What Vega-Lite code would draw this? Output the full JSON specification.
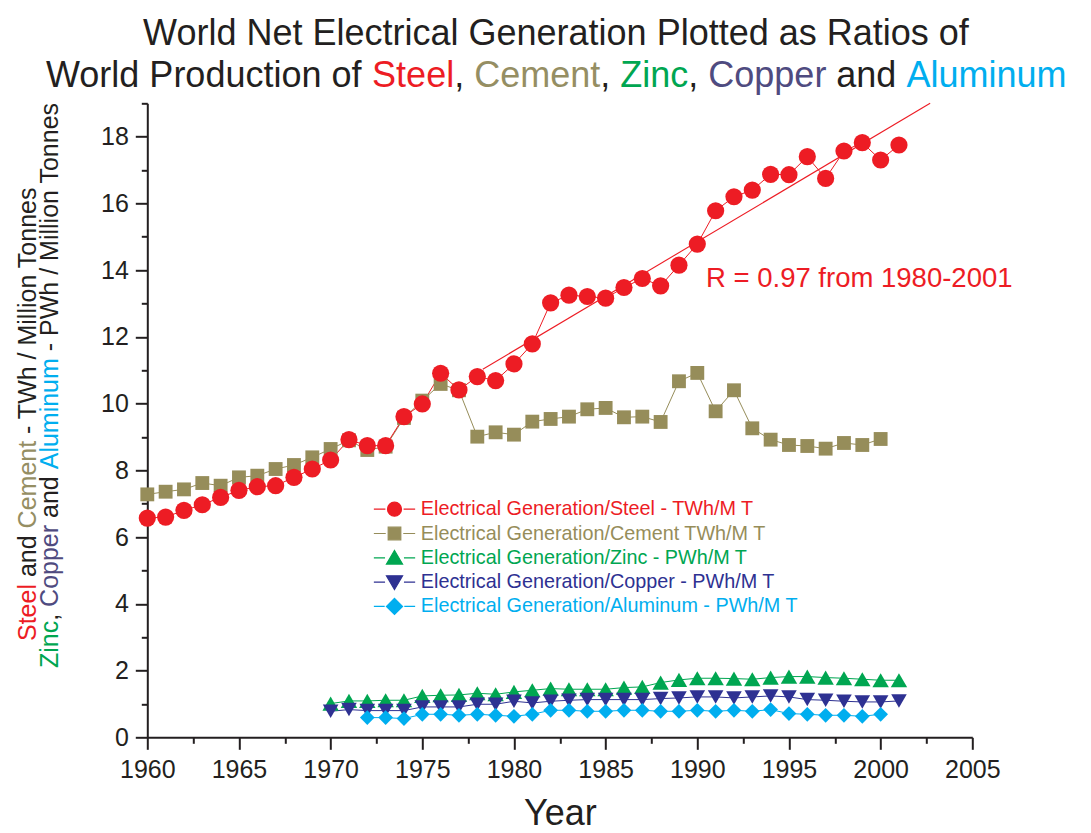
{
  "$schema": "https://vega.github.io/schema/vega-lite/v6.json",
  "width": 825,
  "height": 634,
  "autosize": {"type": "none"},
  "padding": {"left": 147.3, "top": 103.3, "right": 118.7, "bottom": 95.7},
  "background": "white",
  "config": {
    "view": {"stroke": null},
    "text": {"font": "Liberation Sans", "baseline": "alphabetic", "align": "left"}
  },
  "datasets": {
    "series": [
      {"metal":"Cement","year":1960,"ratio":7.28},{"metal":"Cement","year":1961,"ratio":7.36},{"metal":"Cement","year":1962,"ratio":7.43},{"metal":"Cement","year":1963,"ratio":7.62},{"metal":"Cement","year":1964,"ratio":7.54},{"metal":"Cement","year":1965,"ratio":7.79},{"metal":"Cement","year":1966,"ratio":7.84},{"metal":"Cement","year":1967,"ratio":8.04},{"metal":"Cement","year":1968,"ratio":8.16},{"metal":"Cement","year":1969,"ratio":8.39},
      {"metal":"Cement","year":1970,"ratio":8.64},{"metal":"Cement","year":1971,"ratio":8.90},{"metal":"Cement","year":1972,"ratio":8.61},{"metal":"Cement","year":1973,"ratio":8.71},{"metal":"Cement","year":1974,"ratio":9.57},{"metal":"Cement","year":1975,"ratio":10.09},{"metal":"Cement","year":1976,"ratio":10.59},{"metal":"Cement","year":1977,"ratio":10.40},{"metal":"Cement","year":1978,"ratio":9.01},{"metal":"Cement","year":1979,"ratio":9.14},
      {"metal":"Cement","year":1980,"ratio":9.07},{"metal":"Cement","year":1981,"ratio":9.46},{"metal":"Cement","year":1982,"ratio":9.54},{"metal":"Cement","year":1983,"ratio":9.61},{"metal":"Cement","year":1984,"ratio":9.83},{"metal":"Cement","year":1985,"ratio":9.87},{"metal":"Cement","year":1986,"ratio":9.59},{"metal":"Cement","year":1987,"ratio":9.61},{"metal":"Cement","year":1988,"ratio":9.45},{"metal":"Cement","year":1989,"ratio":10.67},
      {"metal":"Cement","year":1990,"ratio":10.92},{"metal":"Cement","year":1991,"ratio":9.77},{"metal":"Cement","year":1992,"ratio":10.40},{"metal":"Cement","year":1993,"ratio":9.26},{"metal":"Cement","year":1994,"ratio":8.92},{"metal":"Cement","year":1995,"ratio":8.76},{"metal":"Cement","year":1996,"ratio":8.73},{"metal":"Cement","year":1997,"ratio":8.65},{"metal":"Cement","year":1998,"ratio":8.82},{"metal":"Cement","year":1999,"ratio":8.76},{"metal":"Cement","year":2000,"ratio":8.94},
      {"metal":"Steel","year":1960,"ratio":6.57},{"metal":"Steel","year":1961,"ratio":6.60},{"metal":"Steel","year":1962,"ratio":6.80},{"metal":"Steel","year":1963,"ratio":6.97},{"metal":"Steel","year":1964,"ratio":7.19},{"metal":"Steel","year":1965,"ratio":7.40},{"metal":"Steel","year":1966,"ratio":7.51},{"metal":"Steel","year":1967,"ratio":7.54},{"metal":"Steel","year":1968,"ratio":7.79},{"metal":"Steel","year":1969,"ratio":8.04},
      {"metal":"Steel","year":1970,"ratio":8.31},{"metal":"Steel","year":1971,"ratio":8.92},{"metal":"Steel","year":1972,"ratio":8.74},{"metal":"Steel","year":1973,"ratio":8.74},{"metal":"Steel","year":1974,"ratio":9.61},{"metal":"Steel","year":1975,"ratio":9.99},{"metal":"Steel","year":1976,"ratio":10.91},{"metal":"Steel","year":1977,"ratio":10.41},{"metal":"Steel","year":1978,"ratio":10.81},{"metal":"Steel","year":1979,"ratio":10.69},
      {"metal":"Steel","year":1980,"ratio":11.19},{"metal":"Steel","year":1981,"ratio":11.79},{"metal":"Steel","year":1982,"ratio":13.02},{"metal":"Steel","year":1983,"ratio":13.25},{"metal":"Steel","year":1984,"ratio":13.21},{"metal":"Steel","year":1985,"ratio":13.16},{"metal":"Steel","year":1986,"ratio":13.48},{"metal":"Steel","year":1987,"ratio":13.75},{"metal":"Steel","year":1988,"ratio":13.53},{"metal":"Steel","year":1989,"ratio":14.15},
      {"metal":"Steel","year":1990,"ratio":14.78},{"metal":"Steel","year":1991,"ratio":15.78},{"metal":"Steel","year":1992,"ratio":16.20},{"metal":"Steel","year":1993,"ratio":16.40},{"metal":"Steel","year":1994,"ratio":16.87},{"metal":"Steel","year":1995,"ratio":16.86},{"metal":"Steel","year":1996,"ratio":17.40},{"metal":"Steel","year":1997,"ratio":16.75},{"metal":"Steel","year":1998,"ratio":17.57},{"metal":"Steel","year":1999,"ratio":17.82},{"metal":"Steel","year":2000,"ratio":17.30},{"metal":"Steel","year":2001,"ratio":17.75},
      {"metal":"Zinc","year":1970,"ratio":1.01},{"metal":"Zinc","year":1971,"ratio":1.09},{"metal":"Zinc","year":1972,"ratio":1.09},{"metal":"Zinc","year":1973,"ratio":1.11},{"metal":"Zinc","year":1974,"ratio":1.11},{"metal":"Zinc","year":1975,"ratio":1.24},{"metal":"Zinc","year":1976,"ratio":1.26},{"metal":"Zinc","year":1977,"ratio":1.27},{"metal":"Zinc","year":1978,"ratio":1.32},{"metal":"Zinc","year":1979,"ratio":1.29},
      {"metal":"Zinc","year":1980,"ratio":1.36},{"metal":"Zinc","year":1981,"ratio":1.41},{"metal":"Zinc","year":1982,"ratio":1.46},{"metal":"Zinc","year":1983,"ratio":1.44},{"metal":"Zinc","year":1984,"ratio":1.44},{"metal":"Zinc","year":1985,"ratio":1.44},{"metal":"Zinc","year":1986,"ratio":1.49},{"metal":"Zinc","year":1987,"ratio":1.51},{"metal":"Zinc","year":1988,"ratio":1.64},{"metal":"Zinc","year":1989,"ratio":1.72},
      {"metal":"Zinc","year":1990,"ratio":1.77},{"metal":"Zinc","year":1991,"ratio":1.77},{"metal":"Zinc","year":1992,"ratio":1.76},{"metal":"Zinc","year":1993,"ratio":1.74},{"metal":"Zinc","year":1994,"ratio":1.79},{"metal":"Zinc","year":1995,"ratio":1.82},{"metal":"Zinc","year":1996,"ratio":1.82},{"metal":"Zinc","year":1997,"ratio":1.79},{"metal":"Zinc","year":1998,"ratio":1.77},{"metal":"Zinc","year":1999,"ratio":1.74},{"metal":"Zinc","year":2000,"ratio":1.71},{"metal":"Zinc","year":2001,"ratio":1.71},
      {"metal":"Copper","year":1970,"ratio":0.78},{"metal":"Copper","year":1971,"ratio":0.83},{"metal":"Copper","year":1972,"ratio":0.80},{"metal":"Copper","year":1973,"ratio":0.80},{"metal":"Copper","year":1974,"ratio":0.80},{"metal":"Copper","year":1975,"ratio":0.91},{"metal":"Copper","year":1976,"ratio":0.91},{"metal":"Copper","year":1977,"ratio":0.91},{"metal":"Copper","year":1978,"ratio":0.99},{"metal":"Copper","year":1979,"ratio":0.99},
      {"metal":"Copper","year":1980,"ratio":1.08},{"metal":"Copper","year":1981,"ratio":1.03},{"metal":"Copper","year":1982,"ratio":1.08},{"metal":"Copper","year":1983,"ratio":1.11},{"metal":"Copper","year":1984,"ratio":1.13},{"metal":"Copper","year":1985,"ratio":1.13},{"metal":"Copper","year":1986,"ratio":1.13},{"metal":"Copper","year":1987,"ratio":1.13},{"metal":"Copper","year":1988,"ratio":1.16},{"metal":"Copper","year":1989,"ratio":1.18},
      {"metal":"Copper","year":1990,"ratio":1.21},{"metal":"Copper","year":1991,"ratio":1.21},{"metal":"Copper","year":1992,"ratio":1.18},{"metal":"Copper","year":1993,"ratio":1.21},{"metal":"Copper","year":1994,"ratio":1.24},{"metal":"Copper","year":1995,"ratio":1.21},{"metal":"Copper","year":1996,"ratio":1.13},{"metal":"Copper","year":1997,"ratio":1.11},{"metal":"Copper","year":1998,"ratio":1.08},{"metal":"Copper","year":1999,"ratio":1.06},{"metal":"Copper","year":2000,"ratio":1.06},{"metal":"Copper","year":2001,"ratio":1.09},
      {"metal":"Aluminum","year":1972,"ratio":0.59},{"metal":"Aluminum","year":1973,"ratio":0.59},{"metal":"Aluminum","year":1974,"ratio":0.56},{"metal":"Aluminum","year":1975,"ratio":0.69},{"metal":"Aluminum","year":1976,"ratio":0.69},{"metal":"Aluminum","year":1977,"ratio":0.66},{"metal":"Aluminum","year":1978,"ratio":0.69},{"metal":"Aluminum","year":1979,"ratio":0.66},
      {"metal":"Aluminum","year":1980,"ratio":0.63},{"metal":"Aluminum","year":1981,"ratio":0.69},{"metal":"Aluminum","year":1982,"ratio":0.81},{"metal":"Aluminum","year":1983,"ratio":0.81},{"metal":"Aluminum","year":1984,"ratio":0.78},{"metal":"Aluminum","year":1985,"ratio":0.78},{"metal":"Aluminum","year":1986,"ratio":0.81},{"metal":"Aluminum","year":1987,"ratio":0.81},{"metal":"Aluminum","year":1988,"ratio":0.78},{"metal":"Aluminum","year":1989,"ratio":0.78},
      {"metal":"Aluminum","year":1990,"ratio":0.81},{"metal":"Aluminum","year":1991,"ratio":0.78},{"metal":"Aluminum","year":1992,"ratio":0.81},{"metal":"Aluminum","year":1993,"ratio":0.78},{"metal":"Aluminum","year":1994,"ratio":0.83},{"metal":"Aluminum","year":1995,"ratio":0.71},{"metal":"Aluminum","year":1996,"ratio":0.69},{"metal":"Aluminum","year":1997,"ratio":0.66},{"metal":"Aluminum","year":1998,"ratio":0.66},{"metal":"Aluminum","year":1999,"ratio":0.63},{"metal":"Aluminum","year":2000,"ratio":0.69}
    ],
    "fit": [
      {"year": 1978.3, "ratio": 11.03},
      {"year": 2002.7, "ratio": 19.0}
    ]
  },
  "resolve": {"axis": {"x": "independent", "y": "independent"}},
  "layer": [
    {
      "data": {"name": "series"},
      "mark": {"type": "line", "strokeWidth": 1},
      "encoding": {
        "x": {"field": "year", "type": "quantitative", "axis": null},
        "y": {"field": "ratio", "type": "quantitative", "axis": null},
        "color": {"field": "metal", "type": "nominal",
          "scale": {"domain": ["Steel", "Cement", "Zinc", "Copper", "Aluminum"], "range": ["#ED1C24", "#968D5A", "#00A651", "#2E3192", "#00AEEF"]}}
      }
    },
    {
      "data": {"name": "fit"},
      "mark": {"type": "line", "strokeWidth": 1.1, "color": "#ED1C24"},
      "encoding": {
        "x": {"field": "year", "type": "quantitative",
          "axis": {"orient": "bottom", "values": [1962.5, 1967.5, 1972.5, 1977.5, 1982.5, 1987.5, 1992.5, 1997.5, 2002.5], "labels": false, "domain": false, "grid": false, "ticks": true, "tickSize": 6, "tickWidth": 2, "tickColor": "#231F20", "title": null}},
        "y": {"field": "ratio", "type": "quantitative",
          "axis": {"orient": "left", "values": [1, 3, 5, 7, 9, 11, 13, 15, 17, 19], "labels": false, "domain": false, "grid": false, "ticks": true, "tickSize": 6, "tickWidth": 2, "tickColor": "#231F20", "title": null}}
      }
    },
    {
      "data": {"name": "series"},
      "mark": {"type": "point", "filled": true, "opacity": 1},
      "encoding": {
        "x": {"field": "year", "type": "quantitative",
          "scale": {"domain": [1960, 2005], "nice": false, "zero": false},
          "axis": {"orient": "bottom", "values": [1960, 1965, 1970, 1975, 1980, 1985, 1990, 1995, 2000, 2005], "format": "d", "grid": false,
            "labelFont": "Liberation Sans", "labelFontSize": 25, "labelColor": "#231F20", "labelPadding": 8, "labelFlush": false, "labelOverlap": false,
            "tickSize": 12, "tickWidth": 2, "tickColor": "#231F20", "domainColor": "#231F20", "domainWidth": 2,
            "title": "Year", "titleFont": "Liberation Sans", "titleFontSize": 36, "titleFontWeight": "normal", "titleColor": "#231F20", "titleY": 87, "titleBaseline": "alphabetic"}},
        "y": {"field": "ratio", "type": "quantitative",
          "scale": {"domain": [0, 19], "nice": false, "zero": false},
          "axis": {"orient": "left", "values": [0, 2, 4, 6, 8, 10, 12, 14, 16, 18], "format": "d", "grid": false,
            "labelFont": "Liberation Sans", "labelFontSize": 25, "labelColor": "#231F20", "labelPadding": 7, "labelFlush": false, "labelOverlap": false,
            "tickSize": 12, "tickWidth": 2, "tickColor": "#231F20", "domainColor": "#231F20", "domainWidth": 2, "title": null}},
        "color": {"field": "metal", "type": "nominal",
          "scale": {"domain": ["Steel", "Cement", "Zinc", "Copper", "Aluminum"], "range": ["#ED1C24", "#968D5A", "#00A651", "#2E3192", "#00AEEF"]},
          "legend": {
            "orient": "none", "legendX": 237.3, "legendY": 396, "title": null, "padding": 0,
            "labelFont": "Liberation Sans", "labelFontSize": 19.8, "labelOffset": 16.4, "rowPadding": 3.3, "labelLimit": 600,
            "labelExpr": "'Electrical Generation/' + datum.label + (datum.label == 'Cement' ? ' TWh/M T' : datum.label == 'Steel' ? ' - TWh/M T' : ' - PWh/M T')",
            "labelColor": {"expr": "scale('color', datum.value)"},
            "symbolSize": 196,
            "symbolStrokeWidth": 1.2,
            "symbolOpacity": 1,
            "symbolFillColor": {"expr": "scale('color', datum.value)"},
            "symbolStrokeColor": {"expr": "scale('color', datum.value)"},
            "symbolType": {"expr": "datum.value == 'Steel' ? 'M-2.95,0H-1.3M1.3,0H2.95M1,0A1,1,0,1,1,-1,0A1,1,0,1,1,1,0Z' : datum.value == 'Cement' ? 'M-2.95,0H-1.25M1.25,0H2.95M-0.9,-0.9H0.9V0.9H-0.9Z' : datum.value == 'Zinc' ? 'M-2.95,0H-1.35M1.35,0H2.95M0,-1.05L1.15,0.9H-1.15Z' : datum.value == 'Copper' ? 'M-2.95,0H-1.35M1.35,0H2.95M0,1.05L1.15,-0.9H-1.15Z' : 'M-2.95,0H-1.4M1.4,0H2.95M0,-1.15L1.15,0L0,1.15L-1.15,0Z'"}
          }},
        "shape": {"field": "metal", "type": "nominal", "legend": null,
          "scale": {"domain": ["Aluminum", "Copper", "Zinc", "Cement", "Steel"], "range": ["diamond", "triangle-down", "triangle-up", "square", "circle"]}},
        "size": {"field": "metal", "type": "nominal", "legend": null,
          "scale": {"domain": ["Cement", "Aluminum", "Copper", "Zinc", "Steel"], "range": [192, 295, 285, 285, 198]}}
      }
    },
    {
      "data": {"values": [{}]},
      "mark": {"type": "text", "text": "R = 0.97 from 1980-2001", "color": "#ED1C24", "fontSize": 27.5},
      "encoding": {"x": {"datum": 1990.475, "type": "quantitative", "axis": null}, "y": {"datum": 13.503, "type": "quantitative", "axis": null}}
    },
    {
      "data": {"values": [{}]},
      "mark": {"type": "text", "text": "World Net Electrical Generation Plotted as Ratios of", "color": "#231F20", "fontSize": 36, "align": "center"},
      "encoding": {"x": {"datum": 1982.29, "type": "quantitative", "axis": null}, "y": {"datum": 20.746, "type": "quantitative", "axis": null}}
    },
    {
      "data": {"values": [{}]},
      "mark": {"type": "text", "text": "World Production of", "color": "#231F20", "fontSize": 36, "dx": 0},
      "encoding": {"x": {"datum": 1954.475, "type": "quantitative", "axis": null}, "y": {"datum": 19.479, "type": "quantitative", "axis": null}}
    },
    {
      "data": {"values": [{}]},
      "mark": {"type": "text", "text": "Steel", "color": "#ED1C24", "fontSize": 36, "dx": 326.1},
      "encoding": {"x": {"datum": 1954.475, "type": "quantitative", "axis": null}, "y": {"datum": 19.479, "type": "quantitative", "axis": null}}
    },
    {
      "data": {"values": [{}]},
      "mark": {"type": "text", "text": ",", "color": "#231F20", "fontSize": 36, "dx": 408.2},
      "encoding": {"x": {"datum": 1954.475, "type": "quantitative", "axis": null}, "y": {"datum": 19.479, "type": "quantitative", "axis": null}}
    },
    {
      "data": {"values": [{}]},
      "mark": {"type": "text", "text": "Cement", "color": "#958E63", "fontSize": 36, "dx": 428.2},
      "encoding": {"x": {"datum": 1954.475, "type": "quantitative", "axis": null}, "y": {"datum": 19.479, "type": "quantitative", "axis": null}}
    },
    {
      "data": {"values": [{}]},
      "mark": {"type": "text", "text": ",", "color": "#231F20", "fontSize": 36, "dx": 554.2},
      "encoding": {"x": {"datum": 1954.475, "type": "quantitative", "axis": null}, "y": {"datum": 19.479, "type": "quantitative", "axis": null}}
    },
    {
      "data": {"values": [{}]},
      "mark": {"type": "text", "text": "Zinc", "color": "#00A651", "fontSize": 36, "dx": 574.2},
      "encoding": {"x": {"datum": 1954.475, "type": "quantitative", "axis": null}, "y": {"datum": 19.479, "type": "quantitative", "axis": null}}
    },
    {
      "data": {"values": [{}]},
      "mark": {"type": "text", "text": ",", "color": "#231F20", "fontSize": 36, "dx": 642.2},
      "encoding": {"x": {"datum": 1954.475, "type": "quantitative", "axis": null}, "y": {"datum": 19.479, "type": "quantitative", "axis": null}}
    },
    {
      "data": {"values": [{}]},
      "mark": {"type": "text", "text": "Copper", "color": "#4F4B80", "fontSize": 36, "dx": 662.3},
      "encoding": {"x": {"datum": 1954.475, "type": "quantitative", "axis": null}, "y": {"datum": 19.479, "type": "quantitative", "axis": null}}
    },
    {
      "data": {"values": [{}]},
      "mark": {"type": "text", "text": "and", "color": "#231F20", "fontSize": 36, "dx": 790.3},
      "encoding": {"x": {"datum": 1954.475, "type": "quantitative", "axis": null}, "y": {"datum": 19.479, "type": "quantitative", "axis": null}}
    },
    {
      "data": {"values": [{}]},
      "mark": {"type": "text", "text": "Aluminum", "color": "#00AEEF", "fontSize": 36, "dx": 860.4},
      "encoding": {"x": {"datum": 1954.475, "type": "quantitative", "axis": null}, "y": {"datum": 19.479, "type": "quantitative", "axis": null}}
    },
    {
      "data": {"values": [{}]},
      "mark": {"type": "text", "text": "Steel", "color": "#ED1C24", "fontSize": 25, "angle": 270, "baseline": "middle", "dx": 0},
      "encoding": {"x": {"datum": 1953.49, "type": "quantitative", "axis": null}, "y": {"datum": 2.886, "type": "quantitative", "axis": null}}
    },
    {
      "data": {"values": [{}]},
      "mark": {"type": "text", "text": "and", "color": "#231F20", "fontSize": 25, "angle": 270, "baseline": "middle", "dx": 63.9},
      "encoding": {"x": {"datum": 1953.49, "type": "quantitative", "axis": null}, "y": {"datum": 2.886, "type": "quantitative", "axis": null}}
    },
    {
      "data": {"values": [{}]},
      "mark": {"type": "text", "text": "Cement", "color": "#958E63", "fontSize": 25, "angle": 270, "baseline": "middle", "dx": 112.6},
      "encoding": {"x": {"datum": 1953.49, "type": "quantitative", "axis": null}, "y": {"datum": 2.886, "type": "quantitative", "axis": null}}
    },
    {
      "data": {"values": [{}]},
      "mark": {"type": "text", "text": "- TWh / Million Tonnes", "color": "#231F20", "fontSize": 25, "angle": 270, "baseline": "middle", "dx": 207.05},
      "encoding": {"x": {"datum": 1953.49, "type": "quantitative", "axis": null}, "y": {"datum": 2.886, "type": "quantitative", "axis": null}}
    },
    {
      "data": {"values": [{}]},
      "mark": {"type": "text", "text": "Zinc", "color": "#00A651", "fontSize": 25, "angle": 270, "baseline": "middle", "dx": 0},
      "encoding": {"x": {"datum": 1954.69, "type": "quantitative", "axis": null}, "y": {"datum": 2.077, "type": "quantitative", "axis": null}}
    },
    {
      "data": {"values": [{}]},
      "mark": {"type": "text", "text": ",", "color": "#231F20", "fontSize": 25, "angle": 270, "baseline": "middle", "dx": 47.2},
      "encoding": {"x": {"datum": 1954.69, "type": "quantitative", "axis": null}, "y": {"datum": 2.077, "type": "quantitative", "axis": null}}
    },
    {
      "data": {"values": [{}]},
      "mark": {"type": "text", "text": "Copper", "color": "#4F4B80", "fontSize": 25, "angle": 270, "baseline": "middle", "dx": 61.1},
      "encoding": {"x": {"datum": 1954.69, "type": "quantitative", "axis": null}, "y": {"datum": 2.077, "type": "quantitative", "axis": null}}
    },
    {
      "data": {"values": [{}]},
      "mark": {"type": "text", "text": "and", "color": "#231F20", "fontSize": 25, "angle": 270, "baseline": "middle", "dx": 150.05},
      "encoding": {"x": {"datum": 1954.69, "type": "quantitative", "axis": null}, "y": {"datum": 2.077, "type": "quantitative", "axis": null}}
    },
    {
      "data": {"values": [{}]},
      "mark": {"type": "text", "text": "Aluminum", "color": "#00AEEF", "fontSize": 25, "angle": 270, "baseline": "middle", "dx": 198.7},
      "encoding": {"x": {"datum": 1954.69, "type": "quantitative", "axis": null}, "y": {"datum": 2.077, "type": "quantitative", "axis": null}}
    },
    {
      "data": {"values": [{}]},
      "mark": {"type": "text", "text": "- PWh / Million Tonnes", "color": "#231F20", "fontSize": 25, "angle": 270, "baseline": "middle", "dx": 316.8},
      "encoding": {"x": {"datum": 1954.69, "type": "quantitative", "axis": null}, "y": {"datum": 2.077, "type": "quantitative", "axis": null}}
    }
  ]
}
